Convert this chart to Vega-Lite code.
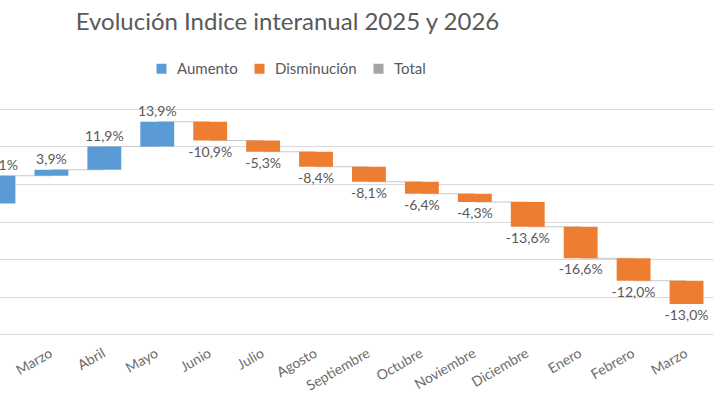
{
  "$schema": "https://vega.github.io/schema/vega-lite/v6.json",
  "width": 741,
  "height": 225,
  "autosize": "none",
  "padding": {"left": -28, "top": 109, "right": 7, "bottom": 71},
  "background": "white",
  "title": {
    "text": "Evolución Indice interanual 2025 y 2026",
    "font": "Lato",
    "fontSize": 24,
    "fontWeight": "normal",
    "color": "#595959",
    "anchor": "middle",
    "dx": -55,
    "offset": 26
  },
  "data": {
    "values": [
      {"periodo": "Febrero 2025", "inicio": 17.4, "fin": 21.1, "etiqueta": "10,1%", "tipo": "Aumento"},
      {"periodo": "Marzo 2025", "inicio": 21.1, "fin": 21.9, "etiqueta": "3,9%", "tipo": "Aumento"},
      {"periodo": "Abril 2025", "inicio": 21.9, "fin": 25.0, "etiqueta": "11,9%", "tipo": "Aumento"},
      {"periodo": "Mayo 2025", "inicio": 25.0, "fin": 28.3, "etiqueta": "13,9%", "tipo": "Aumento"},
      {"periodo": "Junio 2025", "inicio": 28.3, "fin": 25.8, "etiqueta": "-10,9%", "tipo": "Disminución"},
      {"periodo": "Julio 2025", "inicio": 25.8, "fin": 24.3, "etiqueta": "-5,3%", "tipo": "Disminución"},
      {"periodo": "Agosto 2025", "inicio": 24.3, "fin": 22.3, "etiqueta": "-8,4%", "tipo": "Disminución"},
      {"periodo": "Septiembre 2025", "inicio": 22.3, "fin": 20.3, "etiqueta": "-8,1%", "tipo": "Disminución"},
      {"periodo": "Octubre 2025", "inicio": 20.3, "fin": 18.7, "etiqueta": "-6,4%", "tipo": "Disminución"},
      {"periodo": "Noviembre 2025", "inicio": 18.7, "fin": 17.6, "etiqueta": "-4,3%", "tipo": "Disminución"},
      {"periodo": "Diciembre 2025", "inicio": 17.6, "fin": 14.3, "etiqueta": "-13,6%", "tipo": "Disminución"},
      {"periodo": "Enero 2026", "inicio": 14.3, "fin": 10.1, "etiqueta": "-16,6%", "tipo": "Disminución"},
      {"periodo": "Febrero 2026", "inicio": 10.1, "fin": 7.1, "etiqueta": "-12,0%", "tipo": "Disminución"},
      {"periodo": "Marzo 2026", "inicio": 7.1, "fin": 4.0, "etiqueta": "-13,0%", "tipo": "Disminución"}
    ]
  },
  "encoding": {
    "x": {
      "field": "periodo",
      "type": "nominal",
      "sort": null,
      "scale": {"paddingInner": 0.36, "paddingOuter": 0.18},
      "axis": {
        "title": null,
        "labelExpr": "split(datum.label, ' ')[0]",
        "labelAngle": -30,
        "labelAlign": "right",
        "labelBaseline": "middle",
        "labelPadding": 18,
        "labelFont": "Lato",
        "labelFontSize": 14,
        "labelColor": "#6b6b6b",
        "labelOverlap": false,
        "labelBound": false,
        "domain": false,
        "ticks": false,
        "grid": false
      }
    }
  },
  "layer": [
    {
      "transform": [
        {"window": [{"op": "lead", "field": "periodo", "as": "sig"}]},
        {"filter": "datum.sig != null"}
      ],
      "mark": {"type": "rule", "color": "#c8c8c8", "strokeWidth": 1},
      "encoding": {
        "x2": {"field": "sig"},
        "y": {
          "field": "fin",
          "type": "quantitative",
          "scale": {"domain": [0, 30], "nice": false, "zero": false},
          "axis": {
            "title": null,
            "values": [0, 5, 10, 15, 20, 25, 30],
            "labels": false,
            "ticks": false,
            "domain": false,
            "grid": true,
            "gridColor": "#d9d9d9",
            "gridWidth": 1
          }
        }
      }
    },
    {
      "mark": {"type": "bar"},
      "encoding": {
        "y": {
          "field": "inicio",
          "type": "quantitative",
          "axis": {
            "title": null,
            "values": [0, 5, 10, 15, 20, 25, 30],
            "labels": false,
            "ticks": false,
            "domain": false,
            "grid": true,
            "gridColor": "#d9d9d9",
            "gridWidth": 1
          }
        },
        "y2": {"field": "fin"},
        "color": {
          "field": "tipo",
          "type": "nominal",
          "scale": {
            "domain": ["Aumento", "Disminución", "Total"],
            "range": ["#5b9bd5", "#ed7d31", "#a5a5a5"]
          },
          "legend": {
            "title": null,
            "orient": "none",
            "legendX": 182,
            "legendY": -48,
            "direction": "horizontal",
            "symbolType": "square",
            "symbolSize": 100,
            "symbolStrokeWidth": 0,
            "labelFont": "Lato",
            "labelFontSize": 15,
            "labelColor": "#595959",
            "labelOffset": 8,
            "columnPadding": 14,
            "padding": 0
          }
        }
      }
    },
    {
      "transform": [{"filter": "datum.tipo == 'Aumento'"}],
      "mark": {"type": "text", "font": "Lato", "fontSize": 14, "color": "#595959", "baseline": "bottom", "dy": -3},
      "encoding": {
        "y": {
          "field": "fin",
          "type": "quantitative",
          "axis": {
            "title": null,
            "values": [0, 5, 10, 15, 20, 25, 30],
            "labels": false,
            "ticks": false,
            "domain": false,
            "grid": true,
            "gridColor": "#d9d9d9",
            "gridWidth": 1
          }
        },
        "text": {"field": "etiqueta"}
      }
    },
    {
      "transform": [{"filter": "datum.tipo == 'Disminución'"}],
      "mark": {"type": "text", "font": "Lato", "fontSize": 14, "color": "#595959", "baseline": "top", "dy": 5},
      "encoding": {
        "y": {
          "field": "fin",
          "type": "quantitative",
          "axis": {
            "title": null,
            "values": [0, 5, 10, 15, 20, 25, 30],
            "labels": false,
            "ticks": false,
            "domain": false,
            "grid": true,
            "gridColor": "#d9d9d9",
            "gridWidth": 1
          }
        },
        "text": {"field": "etiqueta"}
      }
    }
  ],
  "config": {"view": {"stroke": null}}
}
